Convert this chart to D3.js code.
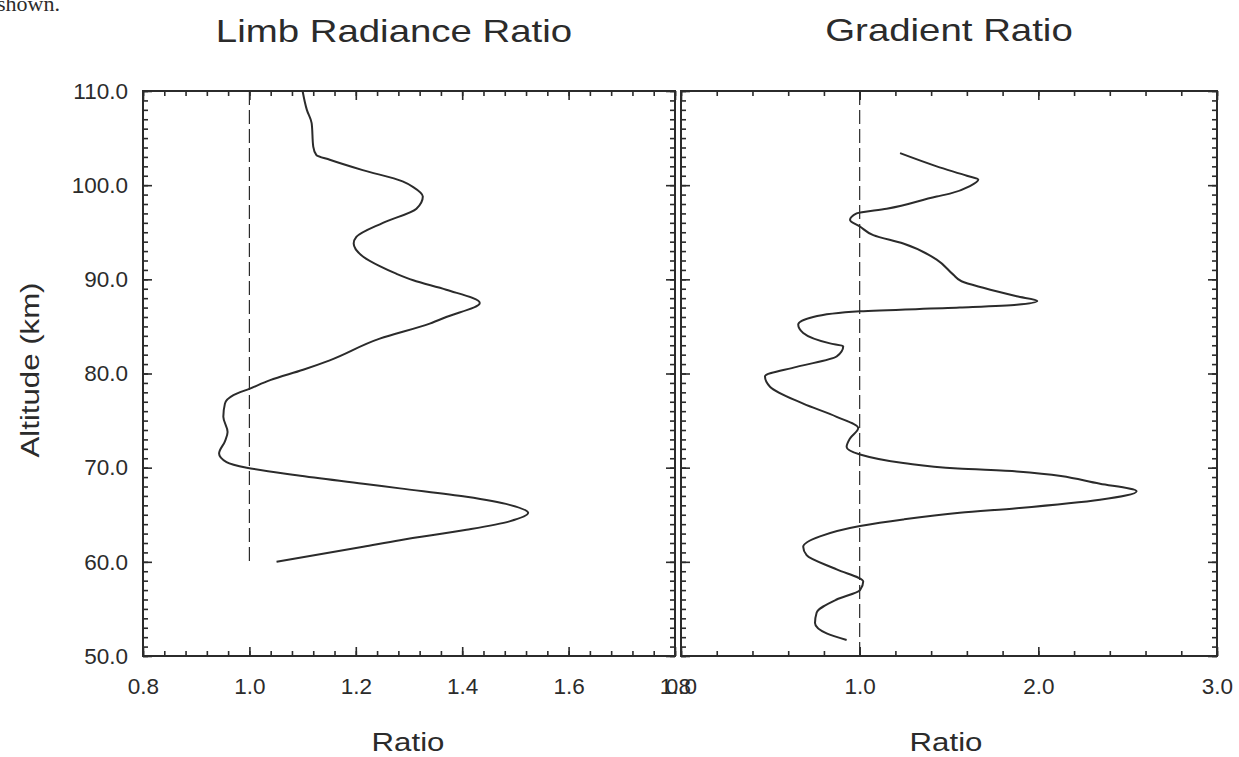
<!DOCTYPE html>
<html lang="en">
<head>
<meta charset="utf-8">
<title>Limb Radiance Ratio / Gradient Ratio</title>
<script src="https://d3js.org/d3.v7.min.js"></script>
<style>
  body { margin: 0; background: #fff; }
  svg text { font-family: "Liberation Sans", Arial, sans-serif; fill: #2b2b2b; }
</style>
</head>
<body>
<div id="chart"></div>
<script>
// ---- data ----
// left panel: limb radiance ratio vs altitude (km)
var limbAlt   = [110.0, 108.0, 106.6, 104.1, 103.2, 102.7, 101.6, 100.4, 99.8, 98.8, 97.5, 96.0, 94.5, 93.8, 92.4, 91.4, 90.6, 89.9, 88.9, 87.5, 86.0, 85.3, 83.7, 81.4, 80.4, 79.3, 78.4, 77.7, 76.8, 75.4, 73.8, 72.8, 71.5, 70.6, 70.0, 69.2, 68.3, 67.8, 66.9, 66.05, 65.2, 64.3, 63.4, 62.3, 61.6, 60.0];
var limbRatio = [1.100, 1.108, 1.117, 1.120, 1.126, 1.151, 1.213, 1.288, 1.308, 1.326, 1.314, 1.251, 1.201, 1.196, 1.214, 1.245, 1.276, 1.308, 1.370, 1.433, 1.370, 1.339, 1.245, 1.151, 1.101, 1.039, 1.001, 0.970, 0.954, 0.951, 0.959, 0.954, 0.943, 0.957, 0.995, 1.089, 1.214, 1.283, 1.408, 1.489, 1.524, 1.489, 1.408, 1.283, 1.214, 1.051];

// right panel: gradient ratio vs altitude (km)
var gradAlt   = [103.4, 102.0, 101.0, 100.6, 99.9, 99.1, 98.8, 97.5, 97.0, 96.3, 95.6, 94.7, 93.8, 92.1, 90.5, 89.8, 89.1, 88.2, 87.7, 87.3, 87.0, 86.6, 86.0, 85.2, 84.3, 83.2, 82.9, 81.8, 80.7, 79.7, 78.6, 76.8, 75.4, 74.2, 73.1, 72.2, 71.4, 70.5, 69.9, 69.6, 68.3, 67.5, 66.6, 65.7, 65.2, 64.5, 63.8, 62.7, 61.6, 60.7, 59.2, 57.9, 57.0, 56.0, 54.6, 53.5, 52.4, 51.7];
var gradRatio = [1.226, 1.431, 1.600, 1.664, 1.617, 1.505, 1.431, 1.151, 0.983, 0.946, 1.002, 1.076, 1.244, 1.431, 1.524, 1.570, 1.692, 1.879, 1.994, 1.879, 1.560, 1.002, 0.740, 0.656, 0.684, 0.834, 0.908, 0.871, 0.647, 0.470, 0.498, 0.684, 0.871, 0.992, 0.946, 0.927, 1.002, 1.244, 1.550, 1.879, 2.345, 2.550, 2.345, 1.879, 1.560, 1.244, 1.002, 0.778, 0.684, 0.703, 0.871, 1.020, 1.002, 0.871, 0.759, 0.750, 0.815, 0.927];

var altTicks = [50, 60, 70, 80, 90, 100, 110];
var limbTicks = [0.8, 1.0, 1.2, 1.4, 1.6, 1.8];
var gradTicks = [0.0, 1.0, 2.0, 3.0];

// ---- layout ----
var width = 1239, height = 757;
var yTop = 91, yBot = 656;

var svg = d3.select('#chart').append('svg')
    .attr('width', width)
    .attr('height', height);

var y = d3.scaleLinear().domain([50, 110]).range([yBot, yTop]);
var xL = d3.scaleLinear().domain([0.8, 1.8]).range([143, 675]);
var xR = d3.scaleLinear().domain([0.0, 3.0]).range([681, 1217]);

var altMinor = d3.range(50, 111, 1);
var ink = '#2b2b2b';
var fmt = d3.format('.1f');

// stray text from the page above the figure
svg.append('text')
    .attr('x', -3).attr('y', 11)
    .style('font-family', '"Liberation Serif", "Times New Roman", serif')
    .style('font-size', '22px')
    .text('shown.');

function panel(x, xMajor, xMinor, showY) {
    var g = svg.append('g');
    var x0 = x.range()[0], x1 = x.range()[1];

    // minor + major ticks on all four sides, pointing inward
    function side(axisFn, scale, values, size, pos, label) {
        var a = axisFn(scale).tickValues(values).tickSize(-size).tickPadding(label ? 15 : 0)
            .tickFormat(label ? fmt : '');
        var gg = g.append('g').attr('transform', pos).call(a);
        gg.attr('font-size', null).attr('font-family', null);
        gg.select('.domain').remove();
        gg.selectAll('line').attr('stroke', ink).attr('stroke-width', 1.6);
        gg.selectAll('text').style('font-size', '22.5px').attr('fill', ink);
        return gg;
    }
    side(d3.axisBottom, x, xMinor, 5, 'translate(0,' + yBot + ')', false);
    side(d3.axisBottom, x, xMajor, 9, 'translate(0,' + yBot + ')', true)
        .selectAll('text').attr('dy', '1.0em');
    side(d3.axisTop, x, xMinor, 5, 'translate(0,' + yTop + ')', false);
    side(d3.axisTop, x, xMajor, 9, 'translate(0,' + yTop + ')', false);
    side(d3.axisLeft, y, altMinor, 5, 'translate(' + x0 + ',0)', false);
    side(d3.axisLeft, y, altTicks, 9, 'translate(' + x0 + ',0)', showY);
    side(d3.axisRight, y, altMinor, 5, 'translate(' + x1 + ',0)', false);
    side(d3.axisRight, y, altTicks, 9, 'translate(' + x1 + ',0)', false);

    g.append('rect')
        .attr('x', x0).attr('y', yTop)
        .attr('width', x1 - x0).attr('height', yBot - yTop)
        .attr('fill', 'none')
        .attr('stroke', ink)
        .attr('stroke-width', 2);
    return g;
}

var gL = panel(xL, limbTicks, d3.range(0.8, 1.8001, 0.04), true);
var gR = panel(xR, gradTicks, d3.range(0, 3.0001, 0.2), false);

// reference lines at ratio = 1
gL.append('line')
    .attr('x1', xL(1)).attr('x2', xL(1))
    .attr('y1', y(110)).attr('y2', y(60))
    .attr('stroke', ink).attr('stroke-width', 1.2)
    .attr('stroke-dasharray', '14,5');
gR.append('line')
    .attr('x1', xR(1)).attr('x2', xR(1))
    .attr('y1', y(110)).attr('y2', y(50))
    .attr('stroke', ink).attr('stroke-width', 1.2)
    .attr('stroke-dasharray', '14,5');

// profiles
var limbData = limbAlt.map(function(a, i) { return { alt: a, v: limbRatio[i] }; });
var gradData = gradAlt.map(function(a, i) { return { alt: a, v: gradRatio[i] }; });

var lineL = d3.line()
    .x(function(d) { return xL(d.v); })
    .y(function(d) { return y(d.alt); })
    .curve(d3.curveMonotoneY);
var lineR = d3.line()
    .x(function(d) { return xR(d.v); })
    .y(function(d) { return y(d.alt); })
    .curve(d3.curveMonotoneY);

gL.append('path').datum(limbData)
    .attr('d', lineL)
    .attr('fill', 'none').attr('stroke', ink).attr('stroke-width', 2);
gR.append('path').datum(gradData)
    .attr('d', lineR)
    .attr('fill', 'none').attr('stroke', ink).attr('stroke-width', 2);

// titles and axis labels (the scan is slightly stretched sideways)
function label(txt, cx, cy, size, sx, rot) {
    svg.append('text')
        .attr('transform', 'translate(' + cx + ',' + cy + ')' + (rot ? ' rotate(-90)' : '') + ' scale(' + sx + ',1)')
        .attr('text-anchor', 'middle')
        .style('font-size', size + 'px')
        .text(txt);
}
label('Limb Radiance Ratio', 394, 42, 32, 1.2, false);
label('Gradient Ratio', 949, 41, 32, 1.2, false);
label('Ratio', 408, 751, 26, 1.2, false);
label('Ratio', 946, 751, 26, 1.2, false);
label('Altitude (km)', 39, 370, 26, 1.2, true);
</script>
</body>
</html>
